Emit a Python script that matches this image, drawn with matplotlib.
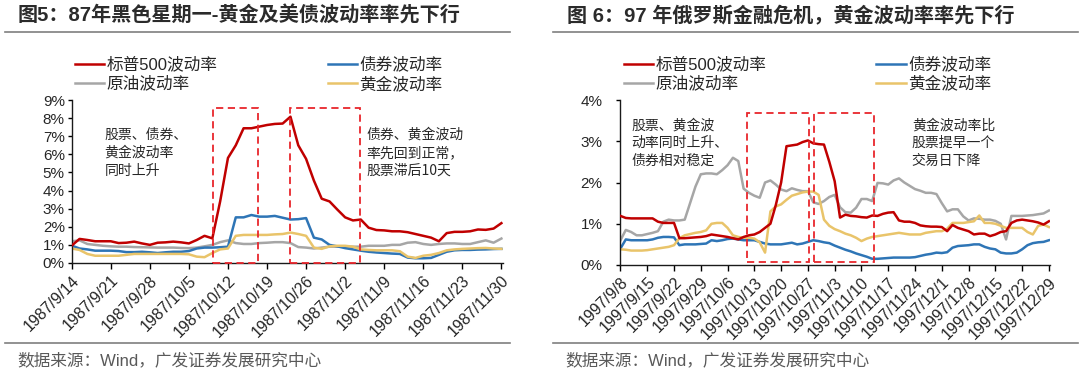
import matplotlib
matplotlib.use("Agg")
import matplotlib.pyplot as plt
from matplotlib.patches import Rectangle
from matplotlib.lines import Line2D

plt.rcParams['font.family'] = ['Liberation Sans', 'Noto Sans CJK SC', 'DejaVu Sans']

# ---- 图5: 1987 ----
dates87 = ['1987/9/14', '1987/9/21', '1987/9/28', '1987/10/5', '1987/10/12', '1987/10/19',
           '1987/10/26', '1987/11/2', '1987/11/9', '1987/11/16', '1987/11/23', '1987/11/30']
spx87 = [0.96, 1.33, 1.27, 1.2, 1.2, 1.2, 1.1, 1.12, 1.18, 1.08,
         1.0, 1.12, 1.14, 1.18, 1.14, 1.08, 1.27, 1.5, 1.36, 3.4,
         5.8, 6.5, 7.44, 7.44, 7.53, 7.62, 7.68, 7.7, 8.08, 6.5,
         5.75, 4.55, 3.55, 3.4, 2.95, 2.52, 2.35, 2.4, 1.95, 1.82,
         1.8, 1.75, 1.75, 1.7, 1.6, 1.5, 1.4, 1.2, 1.65, 1.72,
         1.72, 1.75, 1.85, 1.83, 1.9, 2.2]
bond87 = [0.96, 0.8, 0.75, 0.68, 0.68, 0.68, 0.66, 0.6, 0.6, 0.62,
          0.59, 0.55, 0.59, 0.62, 0.62, 0.66, 0.8, 0.85, 0.85, 0.87,
          0.9, 2.52, 2.52, 2.65, 2.56, 2.56, 2.6, 2.5, 2.4, 2.42,
          2.48, 1.4, 1.3, 1.0, 0.92, 0.82, 0.75, 0.68, 0.62, 0.58,
          0.55, 0.52, 0.5, 0.3, 0.26, 0.26, 0.28, 0.45, 0.62, 0.7,
          0.72, 0.72, 0.74, 0.75, 0.77, 0.78]
oil87 = [1.2, 1.25, 1.05, 1.0, 0.95, 0.92, 0.9, 0.9, 0.88, 0.87,
         0.86, 0.85, 0.85, 0.85, 0.83, 0.82, 0.85, 0.92, 1.0, 1.15,
         1.25, 1.1, 1.05, 1.05, 1.1, 1.12, 1.15, 1.15, 1.1, 0.88,
         0.85, 0.8, 0.85, 0.9, 0.9, 0.9, 0.9, 0.9, 0.95, 0.95,
         0.95, 1.0, 1.0, 1.12, 1.15, 1.05, 1.0, 1.05, 1.08, 1.08,
         1.05, 1.05, 1.15, 1.25, 1.12, 1.35]
gold87 = [0.8, 0.72, 0.5, 0.4, 0.4, 0.4, 0.4, 0.45, 0.5, 0.5,
          0.5, 0.5, 0.5, 0.5, 0.5, 0.48, 0.35, 0.32, 0.55, 0.75,
          0.8, 1.5, 1.55, 1.55, 1.55, 1.55, 1.58, 1.6, 1.68, 1.6,
          1.5, 0.85, 0.78, 0.92, 0.95, 0.95, 0.9, 0.75, 0.72, 0.7,
          0.7, 0.7, 0.65, 0.35, 0.28, 0.4, 0.45, 0.55, 0.7, 0.75,
          0.78, 0.8, 0.82, 0.83, 0.8, 0.78]
boxes87 = [(18.05, 23.9), (28.0, 36.9)]

# ---- 图6: 1997 ----
dates97 = ['1997/9/8', '1997/9/15', '1997/9/22', '1997/9/29', '1997/10/6', '1997/10/13',
           '1997/10/20', '1997/10/27', '1997/11/3', '1997/11/10', '1997/11/17', '1997/11/24',
           '1997/12/1', '1997/12/8', '1997/12/15', '1997/12/22', '1997/12/29']
spx97 = [1.19, 1.14, 1.13, 1.13, 1.13, 1.13, 1.13, 1.05, 1.02, 1.02,
         1.02, 0.65, 0.65, 0.66, 0.67, 0.68, 0.7, 0.74, 0.72, 0.7,
         0.68, 0.65, 0.62, 0.68, 0.72, 0.74, 0.8, 0.9, 1.0, 1.45,
         2.0, 2.88, 2.9, 2.92, 2.98, 3.02, 2.95, 2.93, 2.92, 2.5,
         2.03, 1.15, 1.22, 1.19, 1.18, 1.16, 1.15, 1.2, 1.19, 1.24,
         1.27, 1.28, 1.08, 1.05, 1.05, 1.02, 0.96, 0.94, 0.93, 0.93,
         0.92, 0.82, 0.97, 0.9, 0.86, 0.82, 0.74, 0.76, 0.76, 0.7,
         0.74, 0.8, 0.82, 1.02, 1.08, 1.1, 1.08, 1.06, 1.03, 0.98, 1.06]
oil97 = [0.6, 0.85, 0.8, 0.72, 0.72, 0.75, 0.78, 0.82, 1.05, 1.1,
         1.08, 1.08, 1.1, 1.5, 1.9, 2.2, 2.22, 2.22, 2.2, 2.3,
         2.42, 2.6, 2.52, 1.85, 1.75, 1.68, 1.63, 2.0, 2.05, 1.95,
         1.83, 1.79, 1.86, 1.82, 1.79, 1.79, 1.52, 1.48, 1.55, 1.65,
         1.7, 1.4, 1.28, 1.27, 1.39, 1.6, 1.6, 1.55, 1.99, 1.98,
         1.95, 2.05, 2.1, 2.0, 1.92, 1.84, 1.8, 1.75, 1.75, 1.72,
         1.5, 1.3, 1.35, 1.35, 1.18, 1.08, 1.13, 1.12, 1.1, 1.1,
         1.07, 1.0, 0.62, 1.19, 1.19, 1.19, 1.2, 1.21, 1.23, 1.25, 1.32]
gold97 = [0.38, 0.37, 0.35, 0.35, 0.35, 0.36, 0.38, 0.4, 0.42, 0.44,
          0.48, 0.65, 0.72, 0.75, 0.78, 0.8, 0.84, 1.0, 1.02, 1.02,
          0.9, 0.72, 0.68, 0.66, 0.66, 0.64, 0.55, 0.3, 1.3, 1.42,
          1.47, 1.58, 1.68, 1.72, 1.76, 1.78, 1.78, 1.7, 1.1, 0.95,
          0.87, 0.82, 0.76, 0.72, 0.66, 0.58, 0.64, 0.68, 0.7, 0.72,
          0.74, 0.76, 0.78, 0.76, 0.74, 0.74, 0.74, 0.78, 0.8, 0.82,
          0.82, 0.88, 1.02, 1.02, 1.02, 1.04, 1.06, 1.2, 1.02, 1.02,
          1.0, 0.95, 0.9, 0.9, 0.9, 0.9, 0.8, 0.74, 0.95, 0.98, 0.92]
bond97 = [0.4, 0.62, 0.6, 0.6, 0.6, 0.6, 0.62, 0.66, 0.68, 0.68,
          0.67, 0.48, 0.5, 0.5, 0.5, 0.51, 0.52, 0.6, 0.58, 0.6,
          0.63, 0.64, 0.62, 0.6, 0.6, 0.6, 0.56, 0.52, 0.5, 0.5,
          0.5, 0.52, 0.54, 0.5, 0.52, 0.56, 0.6, 0.58, 0.55, 0.53,
          0.47, 0.42, 0.37, 0.33, 0.28, 0.24, 0.2, 0.15, 0.15, 0.16,
          0.17, 0.18, 0.18, 0.18, 0.18, 0.19, 0.22, 0.25, 0.27, 0.3,
          0.29, 0.31, 0.42, 0.46, 0.47, 0.48, 0.5, 0.5, 0.44, 0.4,
          0.38, 0.3, 0.28, 0.28, 0.3, 0.38, 0.48, 0.53, 0.55, 0.56, 0.6]
boxes97 = [(23.7, 35.2), (36.2, 47.4)]

RED = '#c00000'
BLUE = '#2e75b6'
GREY = '#a6a6a6'
GOLD = '#e9c46a'
BOXC = '#e8262c'
TXT = '#262626'

fig = plt.figure(figsize=(10.8, 3.79), dpi=100)


def draw_panel(rect, dates, spx, bond, oil, gold, boxes, box_y, ymax, notes, ypad, leg_y):
    ax = fig.add_axes(rect)
    x = list(range(len(spx)))
    l1, = ax.plot(x, spx, color=RED, lw=1.8, label='标普500波动率', zorder=5)
    l2, = ax.plot(x, oil, color=GREY, lw=1.8, label='原油波动率')
    l3, = ax.plot(x, bond, color=BLUE, lw=1.8, label='债券波动率')
    l4, = ax.plot(x, gold, color=GOLD, lw=1.8, label='黄金波动率')
    for x0, x1 in boxes:
        ax.add_patch(Rectangle((x0, box_y[0]), x1 - x0, box_y[1] - box_y[0], fill=False,
                               edgecolor=BOXC, lw=1.3, ls=(0, (4, 2.5)), zorder=6, clip_on=False))
    ax.set_xlim(0, (len(spx) - 1) + 0.2)
    ax.set_ylim(0, ymax)
    ax.set_yticks(range(0, ymax + 1))
    ax.set_yticklabels([f'{v}%' for v in range(0, ymax + 1)], fontsize=11, color=TXT)
    ax.set_xticks(range(0, len(spx), 5))
    ax.set_xticklabels(dates, rotation=45, ha='right', rotation_mode='anchor', fontsize=11.5, color=TXT)
    for s in ['top', 'right']:
        ax.spines[s].set_visible(False)
    for s in ['left', 'bottom']:
        ax.spines[s].set_color('#1a1a1a')
        ax.spines[s].set_linewidth(1.0)
    ax.tick_params(axis='x', direction='out', length=4, width=1, pad=3)
    ax.tick_params(axis='y', direction='out', length=3, width=1, pad=ypad)
    for nx, ny, s in notes:
        ax.text(nx, ny, s, fontsize=10, color=TXT, va='top', ha='left', linespacing=1.35,
                family=['Noto Sans CJK SC', 'DejaVu Sans'])
    leg = ax.legend(handles=[l1, l2, l3, l4], ncol=2, loc='lower left',
                    bbox_to_anchor=(0.0, leg_y), frameon=False, fontsize=12,
                    handlelength=1.75, handletextpad=0.15, columnspacing=6.6,
                    labelspacing=0.2, borderaxespad=0.2, borderpad=0.0)
    for t in leg.get_texts():
        t.set_color(TXT)
    return ax


ax1 = draw_panel([0.0664, 0.3061, 0.3993, 0.4300], dates87, spx87, bond87, oil87, gold87,
                 boxes87, (0.0, 8.56), 9,
                 [(4.2, 7.45, '股票、债券、\n黄金波动率\n同时上升'),
                  (37.7, 7.45, '债券、黄金波动\n率先回到正常，\n股票滞后10天')],
                 2, 1.03)
ax2 = draw_panel([0.5745, 0.3008, 0.3977, 0.4353], dates97, spx97, bond97, oil97, gold97,
                 boxes97, (0.08, 3.69), 4,
                 [(2.1, 3.56, '股票、黄金波\n动率同时上升、\n债券相对稳定'),
                  (54.4, 3.56, '黄金波动率比\n股票提早一个\n交易日下降')],
                 10, 1.03)

# titles, separators, sources
fig.text(18 / 1080, 0.96, '图5：87年黑色星期一-黄金及美债波动率率先下行', fontsize=14.5,
         fontweight='bold', color='#2b2b2b', va='center', ha='left')
fig.text(567 / 1080, 0.96, '图 6：97 年俄罗斯金融危机，黄金波动率率先下行', fontsize=14.5,
         fontweight='bold', color='#2b2b2b', va='center', ha='left')
for xa, xb in [(5, 510), (553, 1078)]:
    fig.add_artist(Line2D([xa / 1080, xb / 1080], [1 - 32 / 379] * 2, color='#7f7f7f', lw=1.2))
    fig.add_artist(Line2D([xa / 1080, xb / 1080], [1 - 343 / 379] * 2, color='#7f7f7f', lw=1.2))
fig.text(17 / 1080, 1 - 360 / 379, '数据来源：Wind，广发证券发展研究中心', fontsize=12,
         color='#595959', va='center', ha='left')
fig.text(565 / 1080, 1 - 360 / 379, '数据来源：Wind，广发证券发展研究中心', fontsize=12,
         color='#595959', va='center', ha='left')

fig.savefig('out.png', dpi=100)
